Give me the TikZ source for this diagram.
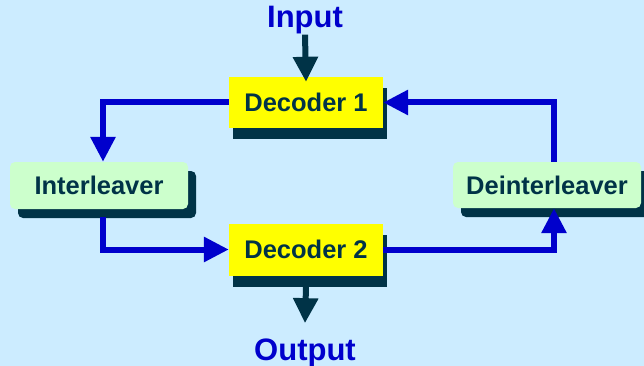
\documentclass[tikz,border=0pt]{standalone}
\usepackage{fontspec}
\setmainfont{Liberation Sans}
\usetikzlibrary{arrows.meta,shadows}
\definecolor{bgc}{RGB}{204,236,255}
\definecolor{flowc}{RGB}{0,0,204}
\definecolor{darkc}{RGB}{0,51,71}
\definecolor{yelc}{RGB}{255,255,0}
\definecolor{grnc}{RGB}{204,255,204}
\begin{document}
\begin{tikzpicture}[x=1pt,y=-1pt,
  box/.style={draw=none, inner sep=0pt, text=darkc,
    font=\fontsize{25.5}{29}\selectfont\bfseries},
  dec/.style={box, fill=yelc,
    drop shadow={shadow xshift=4pt, shadow yshift=-11pt, fill=darkc, opacity=1}},
  lv/.style={box, fill=grnc, rounded corners=5pt,
    drop shadow={shadow xshift=8pt, shadow yshift=-9pt, fill=darkc, opacity=1}},
  io/.style={inner sep=0pt, text=flowc, font=\fontsize{31}{36}\selectfont\bfseries},
  flow/.style={draw=flowc, line width=6pt, -{Triangle[width=24pt,length=25pt]}},
  ioarrow/.style={draw=darkc, line width=6pt, -{Triangle[width=24pt,length=25pt]}}
]
\fill[bgc] (0,0) rectangle (644,366);
\useasboundingbox (0,0) rectangle (644,366);

\node[dec, minimum width=154pt, minimum height=51pt] (d1) at (306,102.5) {Decoder 1};
\node[dec, minimum width=154pt, minimum height=52pt] (d2) at (306,249.5) {Decoder 2};
\node[lv, minimum width=178pt, minimum height=47pt] (il) at (99,185.5) {Interleaver};
\node[lv, minimum width=188pt, minimum height=46pt] (dl) at (547,185) {Deinterleaver};
\node[io, anchor=base] (in) at (305,28) {Input};
\node[io, anchor=base] (out) at (305,360) {Output};

\draw[ioarrow] (in.south) -- ([yshift=-5pt]d1.north);
\draw[ioarrow] ([yshift=-11pt]d2.south) -- ([yshift=15pt]out.north);

\draw[flow] (d1.west) -| ([xshift=4pt]il.north);
\draw[flow] ([xshift=4pt,yshift=-8pt]il.south) |- (d2.west);
\draw[flow] (d2.east) -| ([xshift=7pt]dl.south);
\draw[flow] ([xshift=7pt]dl.north) |- (d1.east);
\end{tikzpicture}
\end{document}
